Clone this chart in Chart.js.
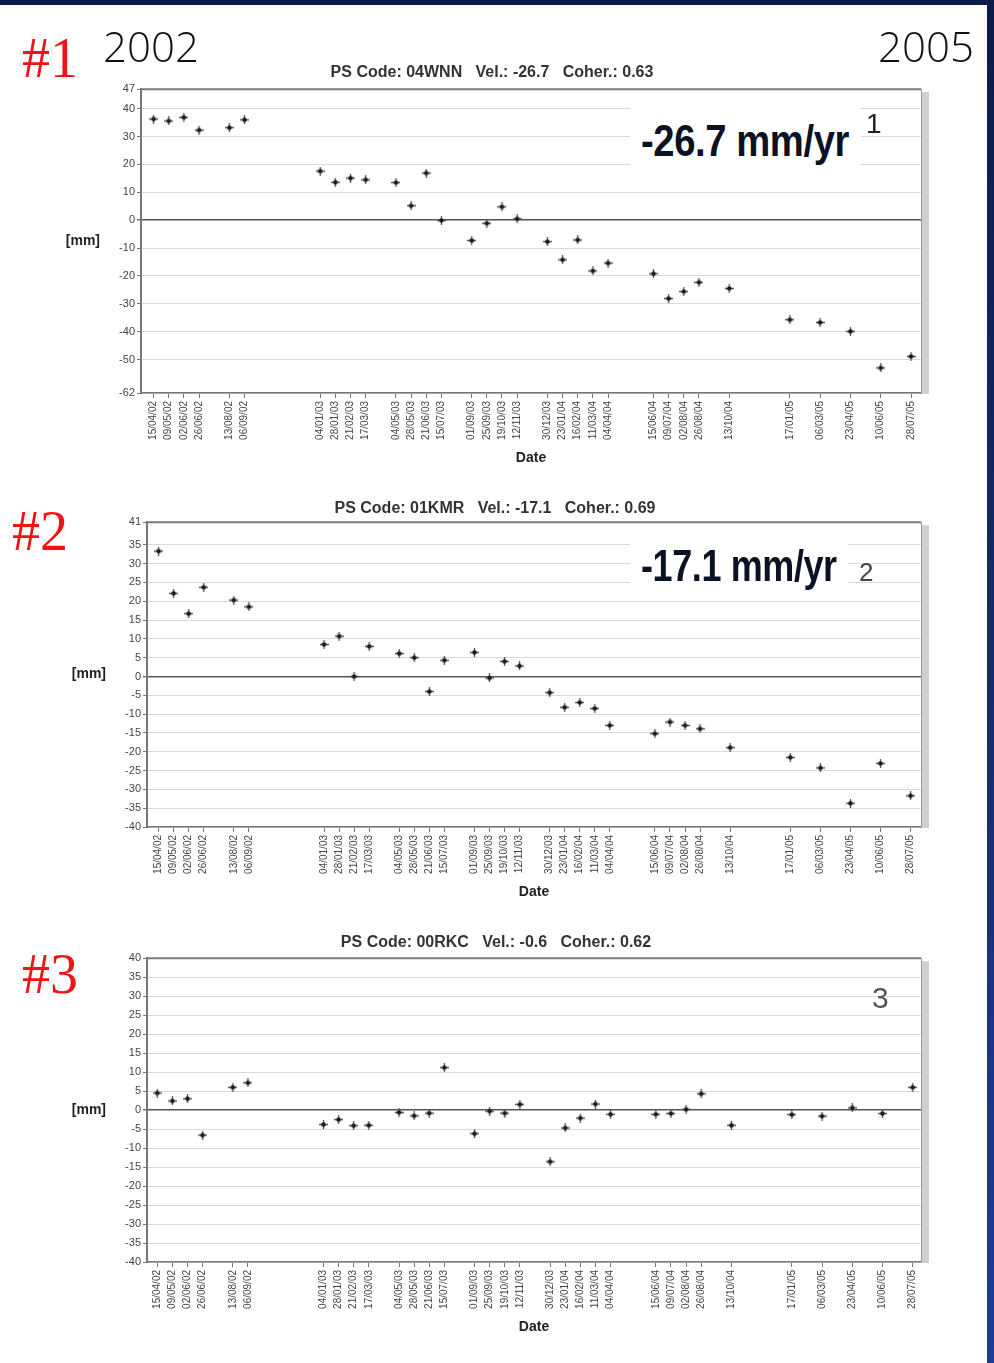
<!DOCTYPE html>
<html>
<head>
<meta charset="utf-8">
<script src="https://cdn.jsdelivr.net/npm/chart.js@4.4.1/dist/chart.umd.min.js"></script>
<style>
  body { margin: 0; background: #fff; }
  #page { position: relative; width: 994px; height: 1363px; overflow: hidden; background: #fff; }
  #page canvas { position: absolute; }
  .bar-top { position: absolute; left: 0; top: 0; width: 994px; height: 5px; background: #0c1a48; }
  .bar-right { position: absolute; left: 987px; top: 0; width: 7px; height: 1363px; background: linear-gradient(#0c1a48, #1d3d96); }
  .num { position: absolute; font-family: "Liberation Serif", "Times New Roman", serif; font-size: 56px; line-height: 56px; color: #f21414; }
  .year { position: absolute; font-family: "Open Sans", sans-serif; font-weight: 300; font-size: 42px; line-height: 42px; color: #111; }
  .rate-box { position: absolute; background: #fff; }
  .rate { position: absolute; font-family: "Liberation Sans", Arial, sans-serif; font-weight: bold; font-size: 45px; line-height: 45px; color: #0d1124; white-space: nowrap; transform-origin: 0 0; letter-spacing: -0.5px; }
  .tag { position: absolute; font-family: Arial, "Liberation Sans", sans-serif; line-height: 1; }
</style>
</head>
<body>
<div id="page">
  <canvas id="ps1" width="940" height="414" style="left:0;top:59px"></canvas>
  <canvas id="ps2" width="940" height="412" style="left:0;top:495px"></canvas>
  <canvas id="ps3" width="940" height="413" style="left:0;top:929px"></canvas>

  <div class="bar-top"></div>
  <div class="bar-right"></div>

  <div class="num" style="left:22px;top:30px">#1</div>
  <div class="num" style="left:12px;top:503px">#2</div>
  <div class="num" style="left:22px;top:946px">#3</div>

  <div class="year" style="left:103px;top:25px">2002</div>
  <div class="year" style="left:878px;top:25px">2005</div>

  <div class="rate-box" style="left:630px;top:105px;width:231px;height:62px"></div>
  <div class="rate" style="left:641px;top:118px;transform:scaleX(0.85)">-26.7 mm/yr</div>
  <div class="tag" style="left:866px;top:110px;font-size:28px;color:#222">1</div>

  <div class="rate-box" style="left:630px;top:530px;width:218px;height:58px"></div>
  <div class="rate" style="left:641px;top:543px;transform:scaleX(0.80)">-17.1 mm/yr</div>
  <div class="tag" style="left:859px;top:559px;font-size:26px;color:#444">2</div>

  <div class="tag" style="left:872px;top:983px;font-size:30px;color:#555">3</div>
</div>
<script>
// acquisition dates (24-day repeat cycle), x = cycle number since first image
const cycles = [0, 1, 2, 3, 5, 6, 11, 12, 13, 14, 16, 17, 18, 19, 21, 22, 23, 24,
  26, 27, 28, 29, 30, 33, 34, 35, 36, 38, 42, 44, 46, 48, 50];
const dateLabels = ['15/04/02', '09/05/02', '02/06/02', '26/06/02', '13/08/02', '06/09/02',
  '04/01/03', '28/01/03', '21/02/03', '17/03/03', '04/05/03', '28/05/03', '21/06/03', '15/07/03',
  '01/09/03', '25/09/03', '19/10/03', '12/11/03', '30/12/03', '23/01/04', '16/02/04', '11/03/04',
  '04/04/04', '15/06/04', '09/07/04', '02/08/04', '26/08/04', '13/10/04', '17/01/05', '06/03/05',
  '23/04/05', '10/06/05', '28/07/05'];

// displacement [mm]
const disp04WNN = [36.3, 35.6, 36.9, 32.3, 33.2, 36.0, 17.6, 13.6, 15.1, 14.5, 13.5, 5.2, 16.9, -0.1,
  -7.3, -1.1, 4.8, 0.5, -7.7, -14.2, -7.1, -18.2, -15.4, -19.2, -28.1, -25.6, -22.3, -24.5,
  -35.7, -36.7, -39.9, -53.0, -48.9];
const disp01KMR = [33.3, 22.1, 16.7, 23.7, 20.3, 18.5, 8.5, 10.7, 0.0, 8.0, 6.1, 5.0, -4.0, 4.3,
  6.4, -0.4, 4.0, 2.8, -4.3, -8.2, -6.9, -8.5, -13.0, -15.2, -12.1, -13.0, -13.9, -18.9,
  -21.5, -24.3, -33.7, -23.1, -31.7];
const disp00RKC = [4.5, 2.4, 3.0, -6.6, 6.0, 7.2, -3.8, -2.5, -4.1, -4.0, -0.6, -1.5, -0.8, 11.2,
  -6.2, -0.3, -0.8, 1.5, -13.6, -4.7, -2.1, 1.6, -1.1, -1.1, -0.9, 0.2, 4.3, -4.0,
  -1.2, -1.6, 0.6, -0.9, 6.0];

const yTicks1 = [47, 40, 30, 20, 10, 0, -10, -20, -30, -40, -50, -62];
const yTicks2 = [41, 35, 30, 25, 20, 15, 10, 5, 0, -5, -10, -15, -20, -25, -30, -35, -40];
const yTicks3 = [40, 35, 30, 25, 20, 15, 10, 5, 0, -5, -10, -15, -20, -25, -30, -35, -40];

Chart.defaults.font.family = 'Arial, "Liberation Sans", sans-serif';

// small "+" marker like the original plots
function makeMarker() {
  const c = document.createElement('canvas');
  c.width = 9; c.height = 9;
  const g = c.getContext('2d');
  g.strokeStyle = '#555';
  g.lineWidth = 1.3;
  g.beginPath();
  g.moveTo(4.5, 0); g.lineTo(4.5, 9);
  g.moveTo(0, 4.5); g.lineTo(9, 4.5);
  g.stroke();
  g.fillStyle = '#1a1a1a';
  g.beginPath();
  g.arc(4.5, 4.5, 2.3, 0, Math.PI * 2);
  g.fill();
  return c;
}
const marker = makeMarker();

// plot frame, right shadow and [mm] label
const framePlugin = {
  id: 'psFrame',
  afterDraw(chart) {
    const a = chart.chartArea;
    const ctx = chart.ctx;
    ctx.save();
    ctx.fillStyle = '#cfcfcf';
    ctx.fillRect(a.right + 1, a.top + 3, 7, a.bottom - a.top - 2);
    ctx.strokeStyle = '#7a7a7a';
    ctx.lineWidth = 2;
    ctx.beginPath(); ctx.moveTo(a.left, a.top); ctx.lineTo(a.right, a.top); ctx.stroke();
    ctx.strokeStyle = '#9a9a9a';
    ctx.lineWidth = 1;
    ctx.beginPath(); ctx.moveTo(a.right + 0.5, a.top); ctx.lineTo(a.right + 0.5, a.bottom); ctx.stroke();
    ctx.fillStyle = '#222';
    ctx.font = 'bold 14px Arial, "Liberation Sans", sans-serif';
    ctx.textAlign = 'right';
    ctx.textBaseline = 'middle';
    ctx.fillText('[mm]', a.left - 41, (a.top + a.bottom) / 2);
    ctx.restore();
  }
};

function buildChart(id, cfg) {
  let points = [];
  for (let i = 0; i < cycles.length; i++) {
    points.push({ x: cycles[i], y: cfg.values[i] });
  }
  return new Chart(document.getElementById(id), {
    type: 'scatter',
    data: {
      datasets: [{ data: points, pointStyle: marker, pointRadius: 4, pointHoverRadius: 4 }]
    },
    options: {
      responsive: false,
      animation: false,
      layout: { padding: { left: cfg.padLeft, right: 19, top: 0, bottom: 0 } },
      plugins: {
        legend: { display: false },
        tooltip: { enabled: false },
        title: {
          display: true, text: cfg.title, color: '#333',
          font: { size: 16, weight: 'bold' },
          padding: { top: 4, bottom: cfg.titleGap }
        }
      },
      scales: {
        x: {
          type: 'linear', min: cfg.xMin, max: cfg.xMax,
          afterBuildTicks: s => { s.ticks = cycles.map(v => ({ value: v })); },
          afterFit: s => { s.height = 80; },
          ticks: {
            autoSkip: false, minRotation: 90, maxRotation: 90, padding: 3,
            color: '#444', font: { size: 10 },
            callback: (v, i) => dateLabels[i]
          },
          grid: { drawOnChartArea: false, tickLength: 5, color: '#777' },
          border: { color: '#777', width: 1.5 },
          title: {
            display: true, text: 'Date', color: '#222',
            font: { size: 14, weight: 'bold' }, padding: { top: 0, bottom: 6 }
          }
        },
        y: {
          min: cfg.yMin, max: cfg.yMax,
          afterBuildTicks: s => { s.ticks = cfg.yTicks.map(v => ({ value: v })); },
          afterFit: s => { s.width = cfg.yWidth; },
          ticks: { color: '#444', font: { size: 11 }, padding: 2 },
          grid: {
            color: c => (c.tick && c.tick.value === 0) ? '#555' : '#d9d9d9',
            lineWidth: c => (c.tick && c.tick.value === 0) ? 1.5 : 1,
            tickLength: 4, tickColor: '#777'
          },
          border: { color: '#777', width: 2 }
        }
      }
    },
    plugins: [framePlugin]
  });
}

buildChart('ps1', {
  title: 'PS Code: 04WNN   Vel.: -26.7   Coher.: 0.63', titleGap: 7,
  values: disp04WNN, yTicks: yTicks1, yMin: -62, yMax: 47,
  xMin: -0.83, xMax: 50.66, padLeft: 63, yWidth: 78
});
buildChart('ps2', {
  title: 'PS Code: 01KMR   Vel.: -17.1   Coher.: 0.69', titleGap: 4,
  values: disp01KMR, yTicks: yTicks2, yMin: -40, yMax: 41,
  xMin: -0.77, xMax: 50.69, padLeft: 69, yWidth: 78
});
buildChart('ps3', {
  title: 'PS Code: 00RKC   Vel.: -0.6   Coher.: 0.62', titleGap: 6,
  values: disp00RKC, yTicks: yTicks3, yMin: -40, yMax: 40,
  xMin: -0.68, xMax: 50.55, padLeft: 71, yWidth: 76
});
</script>
</body>
</html>
